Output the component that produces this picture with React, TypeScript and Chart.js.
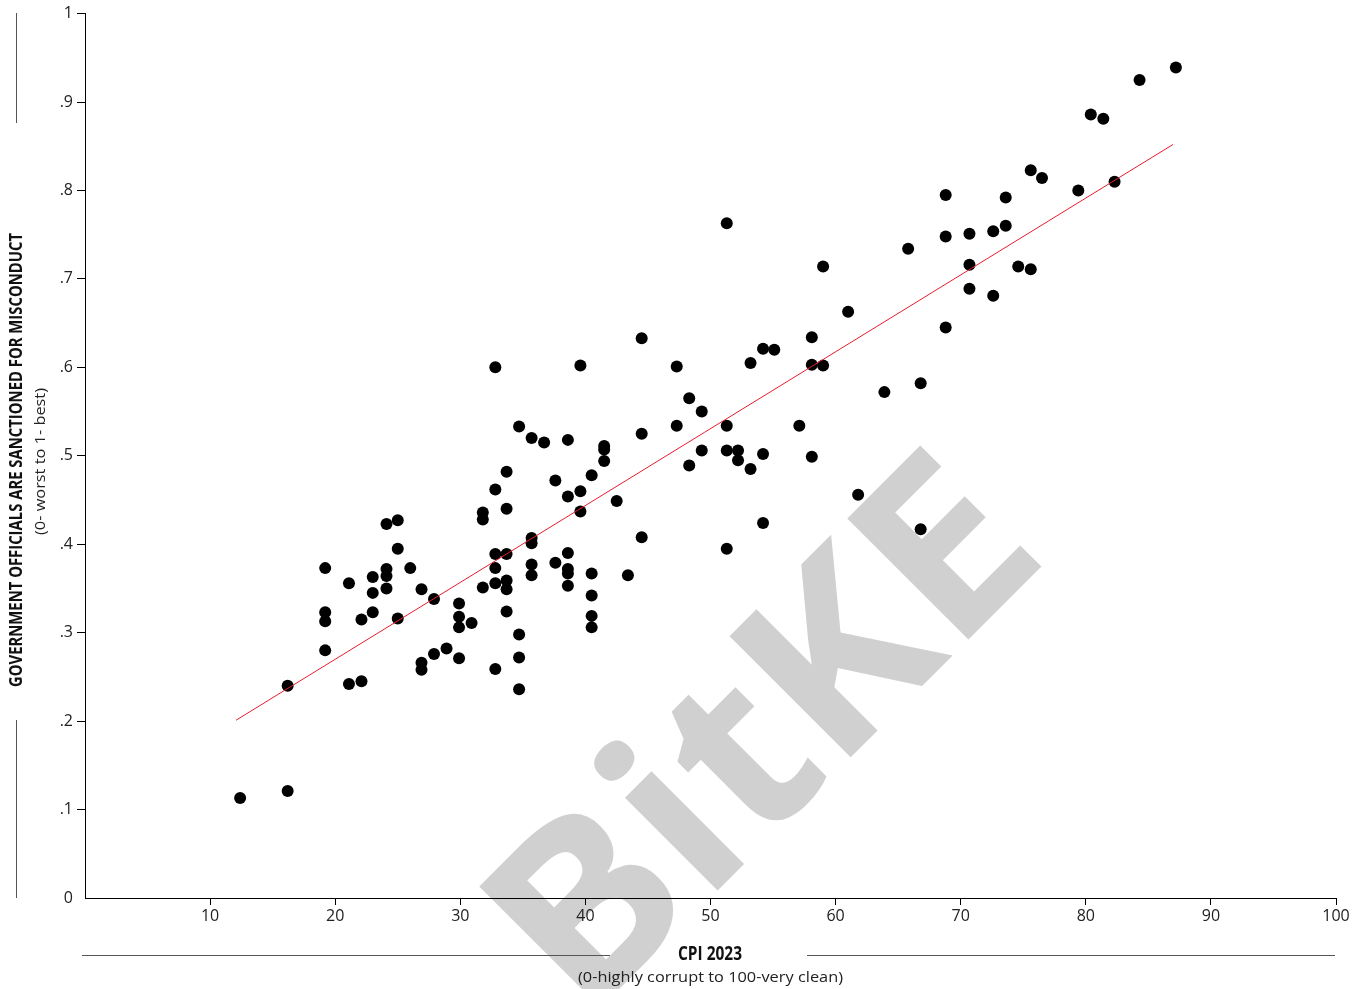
import React, { useEffect, useRef } from "react";
import { Chart, registerables } from "chart.js";

Chart.register(...registerables);

// CPI 2023 score (x) and "Government officials are sanctioned for misconduct" score (y)
const cpi: number[] = [
  12.4, 16.2, 16.2, 19.2, 19.2, 19.2, 19.2, 21.1, 21.1, 22.1, 22.1, 23.0, 23.0, 23.0,
  24.1, 24.1, 24.1, 24.1, 25.0, 25.0, 25.0, 26.0, 26.9, 26.9, 26.9, 27.9, 27.9, 28.9,
  29.9, 29.9, 29.9, 29.9, 30.9, 31.8, 31.8, 31.8, 32.8, 32.8, 32.8, 32.8, 32.8, 32.8,
  33.7, 33.7, 33.7, 33.7, 33.7, 33.7, 34.7, 34.7, 34.7, 34.7, 35.7, 35.7, 35.7, 35.7,
  35.7, 36.7, 37.6, 37.6, 38.6, 38.6, 38.6, 38.6, 38.6, 38.6, 39.6, 39.6, 39.6, 40.5,
  40.5, 40.5, 40.5, 40.5, 41.5, 41.5, 41.5, 42.5, 43.4, 44.5, 44.5, 44.5, 47.3, 47.3,
  48.3, 48.3, 49.3, 49.3, 51.3, 51.3, 51.3, 51.3, 52.2, 52.2, 53.2, 53.2, 54.2, 54.2,
  54.2, 55.1, 57.1, 58.1, 58.1, 58.1, 59.0, 59.0, 61.0, 61.8, 63.9, 65.8, 66.8, 66.8,
  68.8, 68.8, 68.8, 70.7, 70.7, 70.7, 72.6, 72.6, 73.6, 73.6, 74.6, 75.6, 75.6, 76.5,
  79.4, 80.4, 81.4, 82.3, 84.3, 87.2,
];
const sanctioned: number[] = [
  0.113, 0.240, 0.121, 0.373, 0.323, 0.313, 0.280, 0.356, 0.242, 0.315, 0.245, 0.363, 0.345, 0.323,
  0.423, 0.372, 0.364, 0.350, 0.427, 0.395, 0.316, 0.373, 0.349, 0.266, 0.258, 0.338, 0.276, 0.282,
  0.333, 0.318, 0.306, 0.271, 0.311, 0.436, 0.428, 0.351, 0.600, 0.462, 0.389, 0.373, 0.356, 0.259,
  0.482, 0.440, 0.389, 0.359, 0.349, 0.324, 0.533, 0.298, 0.272, 0.236, 0.520, 0.407, 0.401, 0.377,
  0.365, 0.515, 0.472, 0.379, 0.518, 0.454, 0.390, 0.372, 0.367, 0.353, 0.602, 0.460, 0.437, 0.478,
  0.367, 0.342, 0.319, 0.306, 0.511, 0.507, 0.494, 0.449, 0.365, 0.633, 0.525, 0.408, 0.601, 0.534,
  0.565, 0.489, 0.550, 0.506, 0.763, 0.534, 0.506, 0.395, 0.506, 0.495, 0.605, 0.485, 0.621, 0.502,
  0.424, 0.620, 0.534, 0.634, 0.603, 0.499, 0.714, 0.602, 0.663, 0.456, 0.572, 0.734, 0.582, 0.417,
  0.795, 0.748, 0.645, 0.751, 0.716, 0.689, 0.754, 0.681, 0.792, 0.760, 0.714, 0.823, 0.711, 0.814,
  0.800, 0.886, 0.881, 0.810, 0.925, 0.939,
];

// fitted line end points
const fitX: number[] = [12.07, 86.97];
const fitY: number[] = [0.201, 0.852];

const xTicks: number[] = [0, 10, 20, 30, 40, 50, 60, 70, 80, 90, 100];
const yTickLabels: string[] = ["0", ".1", ".2", ".3", ".4", ".5", ".6", ".7", ".8", ".9", "1"];

const xTitle = "CPI 2023";
const xSubtitle = "(0-highly corrupt to 100-very clean)";
const yTitle = "GOVERNMENT OFFICIALS ARE SANCTIONED FOR MISCONDUCT";
const ySubtitle = "(0- worst to 1- best)";
const watermark = "BitKE";

function fitText(
  ctx: CanvasRenderingContext2D,
  text: string,
  x: number,
  y: number,
  font: string,
  width: number,
  color: string,
  vertical = false
) {
  ctx.save();
  ctx.font = font;
  const w = ctx.measureText(text).width;
  ctx.translate(x, y);
  if (vertical) ctx.rotate(-Math.PI / 2);
  ctx.scale(width / w, 1);
  ctx.fillStyle = color;
  ctx.textAlign = "center";
  ctx.textBaseline = "middle";
  ctx.fillText(text, 0, 0);
  ctx.restore();
}

const decorPlugin = {
  id: "decor",
  beforeDraw(chart: any) {
    const ctx: CanvasRenderingContext2D = chart.ctx;
    ctx.save();
    ctx.fillStyle = "rgb(208,208,208)";
    ctx.font = 'bold 240px "Open Sans"';
    ctx.textAlign = "left";
    ctx.textBaseline = "alphabetic";
    const m = ctx.measureText(watermark);
    const inkLeft = -m.actualBoundingBoxLeft;
    const inkRight = m.actualBoundingBoxRight;
    ctx.translate(600, 1008);
    ctx.rotate((-45 * Math.PI) / 180);
    ctx.scale(625 / (inkRight - inkLeft), 1);
    ctx.fillText(watermark, -inkLeft, 0);
    ctx.restore();
  },
  afterDraw(chart: any) {
    const ctx: CanvasRenderingContext2D = chart.ctx;
    ctx.save();
    ctx.strokeStyle = "#555";
    ctx.lineWidth = 1;
    ctx.beginPath();
    ctx.moveTo(82, 955.5);
    ctx.lineTo(610, 955.5);
    ctx.moveTo(807, 955.5);
    ctx.lineTo(1335, 955.5);
    ctx.moveTo(16.5, 13);
    ctx.lineTo(16.5, 123);
    ctx.moveTo(16.5, 720);
    ctx.lineTo(16.5, 898);
    ctx.stroke();
    ctx.restore();
    fitText(ctx, xTitle, 710, 955, 'bold 19px "Open Sans"', 64, "#111");
    fitText(ctx, xSubtitle, 710.5, 978, '15px "Open Sans"', 265, "#222");
    fitText(ctx, yTitle, 17, 460, 'bold 18px "Open Sans"', 454, "#111", true);
    fitText(ctx, ySubtitle, 41, 461.5, '15px "Open Sans"', 147, "#222", true);
  },
};

export default function App() {
  const ref = useRef<HTMLCanvasElement | null>(null);
  useEffect(() => {
    if (!ref.current) return;
    const points = cpi.map((x, i) => ({ x, y: sanctioned[i] }));
    const fit = fitX.map((x, i) => ({ x, y: fitY[i] }));
    const hideZero = (c: any) => (c.tick && c.tick.value === 0 ? "rgba(0,0,0,0)" : "#000");
    const chart = new Chart(ref.current, {
      type: "scatter",
      data: {
        datasets: [
          {
            type: "line",
            data: fit,
            borderColor: "rgb(232,28,44)",
            borderWidth: 1,
            pointRadius: 0,
            fill: false,
            order: 0,
          } as any,
          {
            type: "scatter",
            data: points,
            backgroundColor: "#000",
            borderWidth: 0,
            pointRadius: 6,
            order: 1,
          },
        ],
      },
      options: {
        animation: false,
        responsive: false,
        maintainAspectRatio: false,
        layout: { padding: { left: 0, right: 24, top: 13, bottom: 0 } },
        plugins: { legend: { display: false }, tooltip: { enabled: false } },
        scales: {
          x: {
            type: "linear",
            min: 0,
            max: 100,
            afterBuildTicks: (s: any) => {
              s.ticks = xTicks.map((v) => ({ value: v }));
            },
            afterFit: (s: any) => {
              s.height = 91;
            },
            ticks: {
              callback: (v: any) => (v === 0 ? "" : String(v)),
              color: "#222",
              font: { family: "Open Sans", size: 16 },
              padding: 2,
              maxRotation: 0,
              autoSkip: false,
            },
            grid: { drawOnChartArea: false, drawTicks: true, tickLength: 7, color: hideZero, lineWidth: 1 },
            border: { display: true, color: "#000", width: 1 },
          },
          y: {
            type: "linear",
            min: 0,
            max: 1,
            afterBuildTicks: (s: any) => {
              s.ticks = yTickLabels.map((_, i) => ({ value: i / 10 }));
            },
            afterFit: (s: any) => {
              s.width = 85;
            },
            ticks: {
              callback: (_v: any, i: number) => yTickLabels[i],
              color: "#222",
              font: { family: "Open Sans", size: 16 },
              padding: 4,
              autoSkip: false,
            },
            grid: { drawOnChartArea: false, drawTicks: true, tickLength: 8, color: hideZero, lineWidth: 1 },
            border: { display: true, color: "#000", width: 1 },
          },
        },
      },
      plugins: [decorPlugin],
    });
    return () => chart.destroy();
  }, []);
  return (
    <div style={{ position: "fixed", left: 0, top: 0, width: 1360, height: 989, background: "#fff" }}>
      <canvas ref={ref} width={1360} height={989} style={{ width: 1360, height: 989, display: "block" }} />
    </div>
  );
}
